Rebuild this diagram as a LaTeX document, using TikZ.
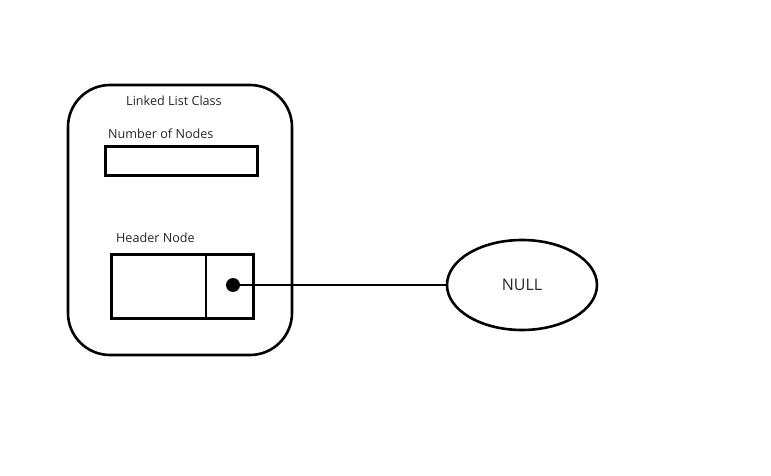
\documentclass[tikz,border=0pt]{standalone}
\usepackage{fontspec}
\setmainfont{Open Sans}
\usetikzlibrary{shapes.geometric}
\begin{document}
\begin{tikzpicture}[x=1pt,y=-1pt,
  box/.style={draw=black,line width=2.6pt},
  lbl/.style={font=\fontsize{12.6}{15}\selectfont,text=black!85,inner sep=0pt}]
\useasboundingbox (0,0) rectangle (771,476);
\fill[white] (0,0) rectangle (771,476);
% outer class box
\draw[box,rounded corners=42pt] (68,85) rectangle (292,355);
\node[lbl,anchor=center] (title) at (174,101) {Linked List Class};
% number of nodes
\node[lbl,anchor=west] (numlbl) at (108,134) {Number of Nodes};
\node[box,minimum width=152pt,minimum height=29pt,inner sep=0pt,anchor=north west] (num) at (104,145) {};
% header node
\node[lbl,anchor=west] (hdrlbl) at (116,238) {Header Node};
\node[box,minimum width=142pt,minimum height=64pt,inner sep=0pt,anchor=north west] (hdr) at (110,253) {};
\coordinate (divtop) at (206,253);
\coordinate (divbot) at (206,320);
\draw[line width=2.6pt] (divtop) -- (divbot);
\node[circle,fill=black,minimum size=14pt,inner sep=0pt] (dot) at (233,285) {};
% NULL
\node[ellipse,draw=black,line width=2.6pt,minimum width=150pt,minimum height=90pt,inner sep=0pt,font=\fontsize{16}{19}\selectfont,text=black!85] (null) at (522,285) {NULL};
\draw[line width=2.6pt] (dot.center) -- (null.west);
\end{tikzpicture}
\end{document}
